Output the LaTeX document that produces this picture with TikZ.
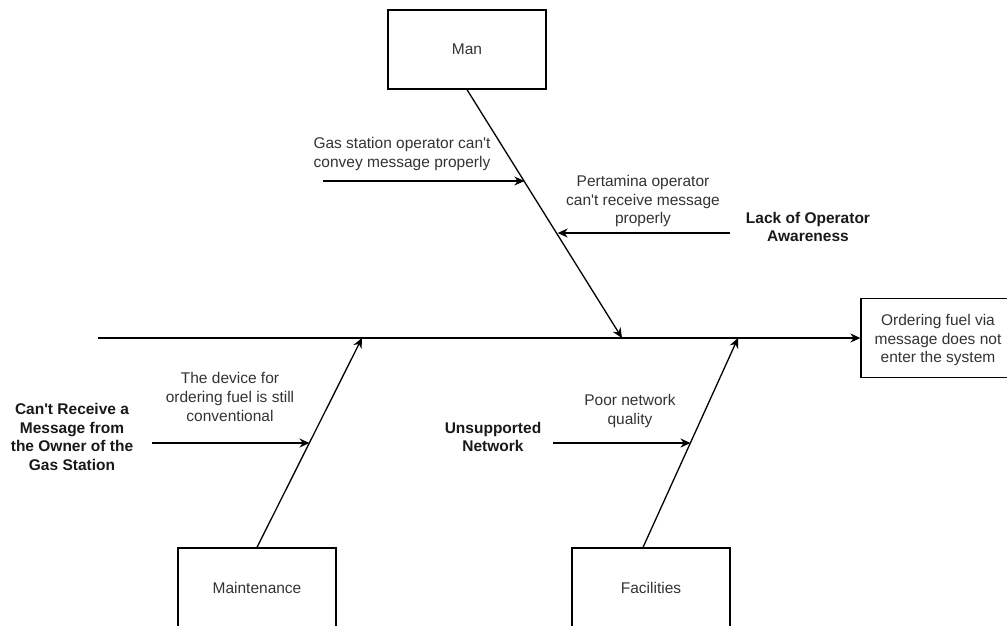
\documentclass[tikz,border=0pt]{standalone}
\usepackage{fontspec}
\setmainfont{Liberation Sans}
\usepackage{tikz}
\usetikzlibrary{arrows.meta,calc,positioning}

\newcommand{\labelsize}{\fontsize{15.5}{18.7}\selectfont}
\newcommand{\apos}{\textquotesingle}

\tikzset{
  catbox/.style={draw, line width=1.3pt, minimum width=158pt, minimum height=79pt, text=black!80},
  bone/.style={line width=1.3pt, -{Stealth[length=10pt,width=9pt]}},
  cause/.style={line width=1.3pt, -{Stealth[length=10pt,width=9pt]}},
  lbl/.style={align=center, text=black!80, inner sep=0pt},
  rootlbl/.style={align=center, text=black!90, inner sep=0pt, font=\labelsize\bfseries}
}

\begin{document}
\begin{tikzpicture}[x=1pt, y=-1pt, font=\labelsize]
    \useasboundingbox (0,0) rectangle (1007,625);

    % Effect and categories
    \node[catbox] (effect) at (940,338) {};
    \node[lbl] (effecttxt) at (938,340) {Ordering fuel via\\message does not\\enter the system};
    \node[catbox] (man) at (467,49.5) {Man};
    \node[catbox] (maint) at (257,587.5) {Maintenance};
    \node[catbox] (fac) at (651,587.5) {Facilities};

    % Spine
    \coordinate (spinestart) at (98,338);
    \draw[bone] (spinestart) -- (effect.west);

    % Bones
    \coordinate (mantip) at (622,338);
    \coordinate (mainttip) at (362,338);
    \coordinate (factip) at (738,338);
    \draw[bone] (man.south) -- (mantip);
    \draw[bone] (maint.north) -- (mainttip);
    \draw[bone] ([xshift=-8pt]fac.north) -- (factip);

    % Man causes
    \coordinate (gasend) at ($(man.south)!0.37!(mantip)$);
    \coordinate (gasstart) at (323,181);
    \draw[cause] (gasstart) -- (gasstart -| gasend);
    \node[lbl] (gastxt) at (402,154) {Gas station operator can\apos t\\convey message properly};
    \coordinate (pertend) at ($(man.south)!0.585!(mantip)$);
    \coordinate (pertstart) at (730,233);
    \draw[cause] (pertstart) -- (pertstart -| pertend);
    \node[lbl] (perttxt) at (643,201) {Pertamina operator\\can\apos t receive message\\properly};
    \node[rootlbl] (lacktxt) at (808,227) {Lack of Operator\\Awareness};

    % Maintenance causes
    \coordinate (devend) at ($(maint.north)!0.5!(mainttip)$);
    \coordinate (devstart) at (152,443);
    \draw[cause] (devstart) -- (devstart -| devend);
    \node[lbl] (devtxt) at (230,397) {The device for\\ordering fuel is still\\conventional};
    \node[rootlbl] (ownertxt) at (72,437) {Can\apos t Receive a\\Message from\\the Owner of the\\Gas Station};

    % Facilities causes
    \coordinate (poorend) at ($([xshift=-8pt]fac.north)!0.5!(factip)$);
    \coordinate (poorstart) at (553,443);
    \draw[cause] (poorstart) -- (poorstart -| poorend);
    \node[lbl] (poortxt) at (630,411) {Poor network\\quality};
    \node[rootlbl] (unstxt) at (493,437) {Unsupported\\Network};
\end{tikzpicture}
\end{document}
